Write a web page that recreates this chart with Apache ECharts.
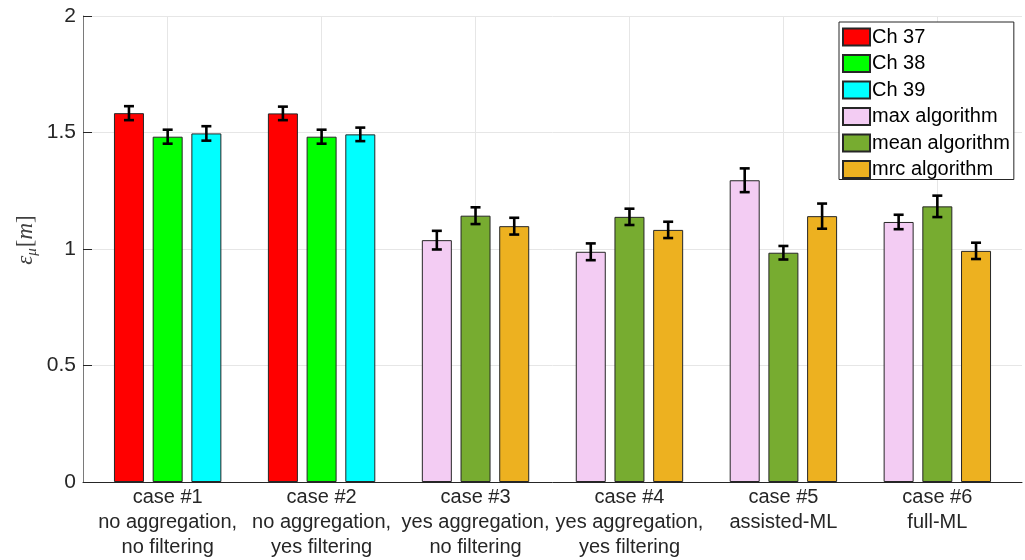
<!DOCTYPE html>
<html>
<head>
<meta charset="utf-8">
<script src="https://cdn.jsdelivr.net/npm/echarts@6/dist/echarts.min.js"></script>
<style>
  html, body { margin: 0; padding: 0; background: #ffffff; }
  #chart { width: 1025px; height: 560px; }
</style>
</head>
<body>
<div id="chart"></div>
<script>
// Case labels (one per group on the x axis)
const caseLabels = [
  'case #1\nno aggregation,\nno filtering',
  'case #2\nno aggregation,\nyes filtering',
  'case #3\nyes aggregation,\nno filtering',
  'case #4\nyes aggregation,\nyes filtering',
  'case #5\nassisted-ML',
  'case #6\nfull-ML'
];
const casePositions = [1, 2, 3, 4, 5, 6];
const channelCases = [1, 2];
const algorithmCases = [3, 4, 5, 6];

// Mean error per channel (cases 1-2) and its spread
const ch37 = [1.583, 1.582];
const ch37Err = [0.030, 0.029];
const ch38 = [1.482, 1.482];
const ch38Err = [0.030, 0.030];
const ch39 = [1.496, 1.492];
const ch39Err = [0.031, 0.029];

// Mean error per aggregation algorithm (cases 3-6) and its spread
const maxAlg = [1.038, 0.988, 1.295, 1.116];
const maxAlgErr = [0.040, 0.036, 0.051, 0.031];
const meanAlg = [1.143, 1.138, 0.984, 1.183];
const meanAlgErr = [0.036, 0.035, 0.029, 0.046];
const mrcAlg = [1.098, 1.082, 1.141, 0.992];
const mrcAlgErr = [0.036, 0.035, 0.054, 0.035];

const yTickValues = [0, 0.5, 1, 1.5, 2];

// Bar geometry: three slots per group
const BAR_W = 30;
const BAR_GAP = 0.29;
const TEXT = '#262626';
const FONT = 'Liberation Sans, Arial, Helvetica, sans-serif';
const SERIF = 'Liberation Serif, DejaVu Serif, serif';

const groups = [
  { name: 'Ch 37', cases: channelCases, values: ch37, errs: ch37Err, color: '#ff0000', slot: 'a', offset: -1 },
  { name: 'Ch 38', cases: channelCases, values: ch38, errs: ch38Err, color: '#00ff00', slot: 'b', offset: 0 },
  { name: 'Ch 39', cases: channelCases, values: ch39, errs: ch39Err, color: '#00ffff', slot: 'c', offset: 1 },
  { name: 'max algorithm', cases: algorithmCases, values: maxAlg, errs: maxAlgErr, color: '#f3ccf3', slot: 'a', offset: -1 },
  { name: 'mean algorithm', cases: algorithmCases, values: meanAlg, errs: meanAlgErr, color: '#77ac30', slot: 'b', offset: 0 },
  { name: 'mrc algorithm', cases: algorithmCases, values: mrcAlg, errs: mrcAlgErr, color: '#edb120', slot: 'c', offset: 1 }
];

const barSeries = groups.map(g => ({
  type: 'bar',
  name: g.name,
  stack: g.slot,
  barWidth: BAR_W,
  barGap: (BAR_GAP * 100) + '%',
  data: g.cases.map((c, i) => [c, g.values[i]]),
  itemStyle: { color: g.color, borderColor: '#262626', borderWidth: 1 },
  emphasis: { disabled: true },
  z: 2
}));

// Error bar rows: [x, low, high, slot offset]
const errorRows = [];
groups.forEach(g => {
  g.cases.forEach((c, i) => {
    errorRows.push([c, g.values[i] - g.errs[i], g.values[i] + g.errs[i], g.offset]);
  });
});

const errorSeries = {
  type: 'custom',
  name: 'error',
  data: errorRows,
  encode: { x: 0, y: [1, 2] },
  z: 5,
  silent: true,
  renderItem: function (params, api) {
    const x = api.value(0);
    const lo = api.coord([x, api.value(1)]);
    const hi = api.coord([x, api.value(2)]);
    const cx = lo[0] + api.value(3) * BAR_W * (1 + BAR_GAP);
    const hw = 5;
    const st = { stroke: '#000000', lineWidth: 2.6 };
    return {
      type: 'group',
      children: [
        { type: 'line', shape: { x1: cx, y1: lo[1], x2: cx, y2: hi[1] }, style: st },
        { type: 'line', shape: { x1: cx - hw, y1: lo[1], x2: cx + hw, y2: lo[1] }, style: st },
        { type: 'line', shape: { x1: cx - hw, y1: hi[1], x2: cx + hw, y2: hi[1] }, style: st }
      ]
    };
  }
};

const chart = echarts.init(document.getElementById('chart'), null, { renderer: 'canvas' });
chart.setOption({
  animation: false,
  backgroundColor: '#ffffff',
  grid: { left: 83, right: 3, top: 16, bottom: 77, containLabel: false },
  legend: {
    data: groups.map(g => g.name),
    orient: 'vertical',
    left: 839,
    top: 22,
    padding: [5, 4, 0, 3],
    itemWidth: 27,
    itemHeight: 17,
    itemGap: 6.5,
    icon: 'rect',
    backgroundColor: '#ffffff',
    borderColor: '#262626',
    borderWidth: 1,
    borderRadius: 0,
    selectedMode: false,
    textStyle: { color: '#000000', fontSize: 20, fontFamily: FONT, padding: [0, 0, 0, -3] }
  },
  xAxis: {
    type: 'value',
    min: 0.45,
    max: 6.55,
    axisLine: { show: true, onZero: false, lineStyle: { color: TEXT, width: 1 } },
    axisTick: { show: false, customValues: casePositions },
    splitLine: { show: true, lineStyle: { color: '#e6e6e6', width: 1 } },
    axisLabel: {
      customValues: casePositions,
      formatter: v => caseLabels[Math.round(v) - 1],
      color: TEXT,
      fontSize: 20,
      lineHeight: 25,
      fontFamily: FONT,
      margin: 3
    }
  },
  yAxis: {
    type: 'value',
    min: yTickValues[0],
    max: yTickValues[yTickValues.length - 1],
    interval: 0.5,
    name: '{e|ε}{s|μ}{b|[}{e|m}{b|]}',
    nameLocation: 'middle',
    nameRotate: 90,
    nameGap: 43,
    nameMoveOverlap: false,
    nameTextStyle: {
      color: '#404040',
      padding: [0, 0, 0, 18],
      rich: {
        e: { fontFamily: SERIF, fontStyle: 'italic', fontSize: 23, color: '#404040', lineHeight: 28 },
        s: { fontFamily: SERIF, fontStyle: 'italic', fontSize: 15, color: '#404040', lineHeight: 28, verticalAlign: 'bottom', padding: [9, 1, 0, 0] },
        b: { fontFamily: SERIF, fontSize: 23, color: '#404040', lineHeight: 28 }
      }
    },
    axisLine: { show: true, onZero: false, lineStyle: { color: '#7a7a7a', width: 1 } },
    axisTick: { show: true, inside: true, length: 9, lineStyle: { color: TEXT } },
    splitLine: { show: true, lineStyle: { color: '#e6e6e6', width: 1 } },
    axisLabel: {
      color: TEXT,
      fontSize: 21,
      fontFamily: FONT,
      margin: 7,
      formatter: v => String(v)
    }
  },
  series: barSeries.concat([errorSeries])
});
</script>
</body>
</html>
